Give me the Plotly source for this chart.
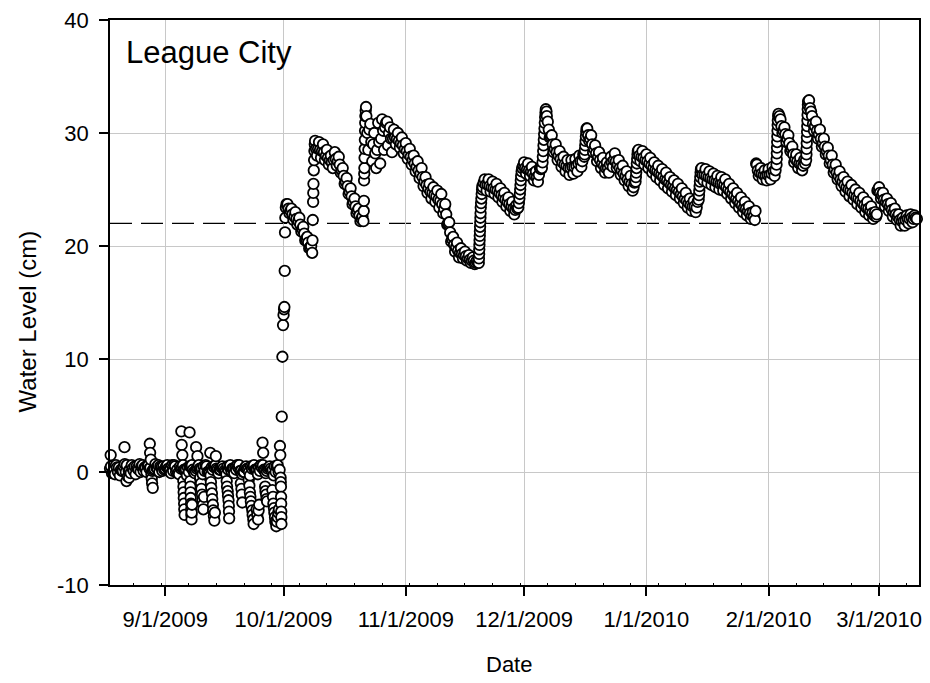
import pandas as pd
import plotly.graph_objects as go

# ---- Water-level readings (cm) at 00:00, one list per month ----
level_aug = [0.4, 0.3, 0.2, 0.0, 0.1, 0.0, 0.2, 0.1, 0.3, 0.5, 0.4, 0.3, 0.2, 0.3, 0.4]  # from Aug 17
level_sep = [0.3, 0.2, 0.1, 0.2, 0.3, 0.1, 0.0, 0.2, 0.3, 0.2,
             0.1, 0.0, 0.2, 0.3, 0.2, 0.1, 0.2, 0.3, 0.2, 0.1,
             0.0, 0.2, 0.3, 0.2, 0.1, 0.2, 0.3, 0.1, 0.0, 0.2]
level_oct = [13.9, 23.7, 23.3, 23.0, 22.5, 21.7, 20.8, 20.0, 29.3, 29.2,
             29.0, 28.5, 28.0, 28.3, 27.9, 26.9, 26.0, 25.1, 24.2, 23.3,
             22.6, 31.5, 30.8, 30.0, 30.9, 31.2, 30.9, 30.5, 30.3, 30.0, 29.6]
level_nov = [29.1, 28.6, 28.0, 27.5, 26.9, 26.1, 25.5, 25.2, 24.9, 24.6,
             23.7, 22.1, 20.8, 20.3, 19.8, 19.5, 19.2, 19.0, 18.7, 23.4,
             25.9, 25.9, 25.7, 25.5, 25.1, 24.7, 24.3, 23.9, 23.6, 25.0]
level_dec = [27.4, 27.3, 27.0, 26.6, 26.9, 29.4, 31.0, 29.8, 29.0, 28.4,
             27.9, 27.6, 27.6, 27.7, 28.0, 28.1, 30.4, 29.8, 28.9, 28.3,
             27.8, 27.4, 27.9, 28.2, 27.6, 27.1, 26.6, 26.2, 25.6, 28.5, 28.4]
level_jan = [28.1, 27.8, 27.4, 27.1, 26.8, 26.5, 26.1, 25.8, 25.5, 25.1,
             24.7, 24.2, 24.0, 23.9, 26.9, 26.8, 26.6, 26.4, 26.2, 26.1,
             25.9, 25.5, 25.1, 24.7, 24.3, 23.9, 23.5, 23.0, 27.2, 26.9, 26.7]
level_feb = [26.8, 27.0, 27.2, 31.2, 30.5, 29.8, 28.8, 28.1, 27.8, 27.6,
             32.8, 31.5, 31.0, 30.3, 29.5, 28.7, 28.0, 27.2, 26.6, 26.1,
             25.7, 25.4, 25.0, 24.7, 24.3, 23.9, 23.5, 23.0]
level_mar = [25.2, 24.7, 24.2, 23.8, 23.3, 22.8, 22.5, 22.7, 22.8, 22.7]

# ---- Readings at 06:00 (None where that reading is listed with the sub-daily readings) ----
morning_aug = [0.2, 0.5, -0.2, 0.4, 0.1, 0.6, -0.1, 0.5, 0.2, 0.6, 0.0, 0.4, 0.3, 0.6, 0.1]
morning_sep = [0.5, 0.2, 0.6, -0.1, 0.4, 0.2, 0.5, 0.0, 0.4, 0.3,
               0.6, -0.1, 0.5, 0.2, 0.4, 0.0, 0.5, 0.3, 0.6, 0.1,
               0.4, 0.0, 0.5, 0.2, 0.6, 0.1, 0.4, 0.2, 0.5, None]
morning_oct = [None, 23.3, 22.8, 22.4, 21.9, 21.1, 20.3, None, 28.6, 28.5,
               28.3, 27.8, 27.4, 27.7, 27.2, 26.2, 25.3, 24.4, 23.5, 22.7,
               None, None, None, None, None, None, None, None, 29.6, 29.3, 28.9]
morning_nov = [28.4, 27.9, 27.3, 26.7, 26.1, 25.4, 24.8, 24.5, 24.1, 23.7,
               22.8, 21.2, 20.1, 19.6, 19.3, 19.1, 18.8, 18.7, 18.5, None,
               25.4, 25.3, 25.1, 24.9, 24.5, 24.1, 23.7, 23.3, 23.3, None]
morning_dec = [26.9, 26.7, 26.4, 26.1, 26.8, None, 30.3, 29.0, 28.3, 27.7,
               27.2, 26.9, 27.0, 27.1, 27.5, 27.9, 29.8, 29.0, 28.2, 27.6,
               27.1, 26.9, 27.4, 27.5, 26.9, 26.4, 25.9, 25.5, None, 28.0, 27.8]
morning_jan = [27.5, 27.1, 26.7, 26.4, 26.1, 25.8, 25.4, 25.1, 24.8, 24.4,
               24.0, 23.6, 23.5, None, 26.3, 26.2, 26.0, 25.8, 25.6, 25.5,
               25.2, 24.8, 24.4, 24.0, 23.6, 23.3, 22.9, 22.6, 26.7, 26.4, 26.2]
morning_feb = [26.3, 26.6, None, 30.6, 29.9, 29.1, 28.1, 27.5, 27.2, 27.3,
               None, 30.8, 30.2, 29.5, 28.8, 28.0, 27.2, 26.5, 25.9, 25.4,
               25.0, 24.7, 24.3, 24.0, 23.6, 23.3, 22.9, 22.6]
morning_mar = [24.7, 24.1, 23.7, 23.2, 22.8, 22.3, 22.2, 22.4, 22.5, 22.5]

# ---- Readings at 12:00 ----
noon_aug = [0.7, -0.1, 0.6, -0.3, 0.5, -0.4, 0.6, -0.2, 0.7, 0.1, 0.6, -0.2, 0.7, 0.0, 0.5]
noon_sep = [0.6, -0.1, 0.5, -0.2, 0.6, -0.3, 0.5, -0.1, 0.6, -0.2,
            0.5, -0.3, 0.4, -0.1, 0.5, -0.2, 0.6, -0.1, 0.4, -0.2,
            0.5, -0.3, 0.6, -0.2, 0.4, -0.1, 0.5, -0.3, 0.6, None]
noon_oct = [None, 22.9, 22.3, 21.9, 21.3, 20.5, 19.8, None, 28.0, 27.8,
            27.6, 27.2, 26.9, 27.1, 26.5, 25.5, 24.6, 23.7, 22.9, 22.2,
            None, 28.5, 27.5, 26.9, 27.3, 28.5, 28.9, 28.3, 29.0, 28.7, 28.2]
noon_nov = [27.7, 27.2, 26.6, 26.0, 25.3, 24.7, 24.2, 23.9, 23.4, 22.9,
            21.9, 20.4, 19.5, 19.0, 18.9, 18.7, 18.5, 18.4, None, 25.2,
            24.9, 24.8, 24.6, 24.3, 23.9, 23.5, 23.1, 22.8, None, None]
noon_dec = [26.4, 26.2, 25.8, 25.7, None, None, 29.6, 28.3, 27.6, 27.0,
            26.6, 26.3, 26.4, 26.6, 27.0, None, 29.3, 28.3, 27.5, 26.9,
            26.5, 26.5, 27.0, 26.9, 26.3, 25.8, 25.3, 24.9, None, 27.5, 27.2]
noon_jan = [26.9, 26.5, 26.1, 25.8, 25.4, 25.1, 24.8, 24.5, 24.2, 23.8,
            23.4, 23.1, 23.0, None, 25.8, 25.6, 25.4, 25.2, 25.0, 24.9,
            24.6, 24.2, 23.8, 23.4, 23.0, 22.7, 22.4, 22.3, 26.2, 25.9, 25.8]
noon_feb = [25.9, 26.2, None, 30.0, 29.2, 28.4, 27.4, 26.9, 26.7, None,
            None, 30.2, 29.5, 28.8, 28.1, 27.3, 26.5, 25.9, 25.3, 24.8,
            24.4, 24.1, 23.7, 23.4, 23.0, 22.7, 22.4, None]
noon_mar = [24.2, 23.5, 23.1, 22.6, 22.3, 21.8, 21.8, 22.0, 22.1, None]

# ---- Readings at 18:00 ----
evening_aug = [0.5, 0.0, 0.4, 0.2, 0.7, 0.1, 0.3, 0.5, 0.0, 0.4, 0.6, 0.1, 0.4, 0.5, 0.2]
evening_sep = [0.3, 0.6, 0.0, 0.5, 0.2, 0.4, 0.6, 0.1, 0.3, 0.5,
               0.0, 0.4, 0.6, 0.2, 0.3, 0.5, 0.1, 0.4, 0.6, 0.0,
               0.3, 0.5, 0.2, 0.4, 0.6, 0.1, 0.3, 0.5, 0.0, None]
evening_oct = [None, 23.1, 22.6, 22.2, 21.5, 20.6, 19.9, None, 28.6, 28.4,
               28.0, 27.6, 27.6, 27.5, 26.7, 25.7, 24.8, 23.9, 23.1, 22.4,
               None, None, None, None, None, None, None, None, 29.5, 29.1, 28.6]
evening_nov = [28.1, 27.6, 27.0, 26.4, 25.7, 25.1, 24.7, 24.4, 24.0, 23.3,
               22.0, 20.6, 19.9, 19.4, 19.2, 18.9, 18.7, 18.5, None, 25.6,
               25.4, 25.2, 25.0, 24.7, 24.3, 23.9, 23.5, 23.2, None, 27.1]
evening_dec = [26.8, 26.6, 26.2, 26.3, None, 31.5, 29.7, 28.6, 28.0, 27.4,
               27.1, 26.9, 27.0, 27.3, 27.5, None, 29.5, 28.6, 27.9, 27.3,
               26.9, 27.2, 27.6, 27.2, 26.7, 26.2, 25.7, 25.2, None, 27.9, 27.6]
evening_jan = [27.3, 26.9, 26.6, 26.3, 25.9, 25.6, 25.3, 25.0, 24.6, 24.2,
               23.8, 23.5, 23.4, None, 26.3, 26.1, 25.9, 25.7, 25.5, 25.4,
               25.0, 24.6, 24.2, 23.8, 23.4, 23.1, 22.7, None, 26.5, 26.3, 26.3]
evening_feb = [26.4, 26.7, 31.5, 30.2, 29.5, 28.6, 27.7, 27.3, 27.1, None,
               31.9, 30.6, 29.9, 29.1, 28.4, 27.6, 26.8, 26.2, 25.7, 25.2,
               24.9, 24.5, 24.2, 23.8, 23.4, 23.1, 22.7, 25.0]
evening_mar = [24.5, 23.9, 23.5, 23.0, 22.6, 22.2, 22.3, 22.4, 22.4, None]

month_starts = ["2009-08-17", "2009-09-01", "2009-10-01", "2009-11-01",
                "2009-12-01", "2010-01-01", "2010-02-01", "2010-03-01"]
readings_by_hour = {
    0: [level_aug, level_sep, level_oct, level_nov, level_dec, level_jan, level_feb, level_mar],
    6: [morning_aug, morning_sep, morning_oct, morning_nov,
        morning_dec, morning_jan, morning_feb, morning_mar],
    12: [noon_aug, noon_sep, noon_oct, noon_nov, noon_dec, noon_jan, noon_feb, noon_mar],
    18: [evening_aug, evening_sep, evening_oct, evening_nov,
         evening_dec, evening_jan, evening_feb, evening_mar],
}

# ---- Sub-daily readings: pre-deployment spikes ----
spike_readings = [
    ("2009-08-18 04:00", 1.5), ("2009-08-21 16:00", 2.2), ("2009-08-22 04:00", -0.8),
    ("2009-08-22 20:00", -0.5),
    ("2009-08-28 02:00", 2.5), ("2009-08-28 04:00", 1.7), ("2009-08-28 08:00", 1.1),
    ("2009-08-28 14:00", -0.6), ("2009-08-28 16:00", -1.0), ("2009-08-28 20:00", -1.4),
    ("2009-09-05 02:00", 3.6), ("2009-09-05 04:00", 2.4), ("2009-09-05 08:00", 1.5),
    ("2009-09-05 14:00", -0.8), ("2009-09-05 15:00", -1.3), ("2009-09-05 16:00", -1.8),
    ("2009-09-05 17:00", -2.3), ("2009-09-05 19:00", -2.8), ("2009-09-05 20:00", -3.3),
    ("2009-09-05 22:00", -3.8),
    ("2009-09-07 04:00", 3.5), ("2009-09-07 08:00", -0.8), ("2009-09-07 09:00", -1.3),
    ("2009-09-07 10:00", -1.8), ("2009-09-07 11:00", -2.3), ("2009-09-07 13:00", -2.8),
    ("2009-09-07 14:00", -3.3), ("2009-09-07 15:00", -3.8), ("2009-09-07 16:00", -4.2),
    ("2009-09-07 17:00", -3.6), ("2009-09-07 19:00", -2.9),
    ("2009-09-08 20:00", 2.2), ("2009-09-09 04:00", 1.4),
    ("2009-09-09 21:00", -0.5), ("2009-09-10 02:00", -1.0), ("2009-09-10 04:00", -1.5),
    ("2009-09-10 08:00", -2.0), ("2009-09-10 10:00", -2.5), ("2009-09-10 14:00", -2.9),
    ("2009-09-10 16:00", -3.3), ("2009-09-10 20:00", -2.2),
    ("2009-09-12 10:00", 1.7), ("2009-09-12 14:00", -0.9), ("2009-09-12 16:00", -1.4),
    ("2009-09-12 20:00", -1.9), ("2009-09-12 22:00", -2.4), ("2009-09-13 02:00", -2.9),
    ("2009-09-13 04:00", -3.4), ("2009-09-13 08:00", -3.9), ("2009-09-13 11:00", -4.3),
    ("2009-09-13 14:00", -3.6), ("2009-09-13 20:00", 1.4),
    ("2009-09-16 14:00", -0.8), ("2009-09-16 16:00", -1.3), ("2009-09-16 20:00", -1.7),
    ("2009-09-16 22:00", -2.1), ("2009-09-17 01:00", -2.5), ("2009-09-17 03:00", -3.0),
    ("2009-09-17 04:00", -3.5), ("2009-09-17 05:00", -4.1),
    ("2009-09-20 04:00", -1.0), ("2009-09-20 08:00", -1.5), ("2009-09-20 10:00", -2.0),
    ("2009-09-20 13:00", -2.7),
    ("2009-09-22 04:00", -0.7), ("2009-09-22 08:00", -1.2), ("2009-09-22 11:00", -1.8),
    ("2009-09-22 14:00", -2.2), ("2009-09-22 17:00", -2.6), ("2009-09-22 20:00", -3.0),
    ("2009-09-23 02:00", -3.4), ("2009-09-23 04:00", -3.8), ("2009-09-23 08:00", -4.2),
    ("2009-09-23 10:00", -4.6), ("2009-09-24 04:00", -3.3), ("2009-09-24 08:00", -3.8),
    ("2009-09-24 13:00", -4.2), ("2009-09-24 16:00", -3.4), ("2009-09-24 20:00", -2.9),
    ("2009-09-25 16:00", 2.6), ("2009-09-25 20:00", 1.7),
    ("2009-09-26 08:00", -1.3), ("2009-09-26 10:00", -1.7), ("2009-09-26 14:00", -2.0),
    ("2009-09-26 16:00", -2.4), ("2009-09-26 20:00", -2.6),
    ("2009-09-28 04:00", -1.6), ("2009-09-28 08:00", -2.2), ("2009-09-28 10:00", -2.8),
    ("2009-09-28 14:00", -3.2), ("2009-09-28 16:00", -3.6), ("2009-09-28 20:00", -4.0),
    ("2009-09-28 22:00", -4.4), ("2009-09-29 04:00", -4.8), ("2009-09-29 08:00", -4.4),
    ("2009-09-29 13:00", -4.0), ("2009-09-29 16:00", -3.6), ("2009-09-29 20:00", -3.3),
    ("2009-09-30 02:00", 2.3), ("2009-09-30 04:00", 1.5), ("2009-09-30 06:00", -0.5),
    ("2009-09-30 07:00", -0.9), ("2009-09-30 08:00", -1.3), ("2009-09-30 09:00", -2.2),
    ("2009-09-30 09:30", -2.8), ("2009-09-30 10:00", -3.5), ("2009-09-30 10:30", -4.0),
    ("2009-09-30 11:00", -4.6),
]

# ---- Sub-daily readings: installation and rising-water events ----
surge_readings = [
    ("2009-09-30 13:00", 4.9), ("2009-09-30 17:00", 10.2), ("2009-09-30 21:00", 13.0),
    ("2009-10-01 03:00", 14.4), ("2009-10-01 05:00", 14.6), ("2009-10-01 07:00", 17.8),
    ("2009-10-01 09:00", 21.2), ("2009-10-01 11:00", 22.5), ("2009-10-01 14:00", 23.4),
    ("2009-10-01 18:00", 23.7),
    ("2009-10-08 06:00", 19.4), ("2009-10-08 08:00", 20.5), ("2009-10-08 10:00", 22.3),
    ("2009-10-08 12:00", 23.9), ("2009-10-08 13:00", 24.7), ("2009-10-08 14:00", 25.5),
    ("2009-10-08 16:00", 26.7), ("2009-10-08 18:00", 27.6), ("2009-10-08 20:00", 28.4),
    ("2009-10-08 22:00", 29.0),
    ("2009-10-21 06:00", 22.2), ("2009-10-21 08:00", 23.1), ("2009-10-21 09:00", 24.0),
    ("2009-10-21 10:00", 25.8), ("2009-10-21 11:00", 26.4), ("2009-10-21 12:00", 26.9),
    ("2009-10-21 13:00", 27.8), ("2009-10-21 14:00", 28.6), ("2009-10-21 15:00", 29.4),
    ("2009-10-21 16:00", 30.2), ("2009-10-21 17:00", 30.9), ("2009-10-21 18:00", 31.5),
    ("2009-10-21 20:00", 32.0), ("2009-10-21 22:00", 32.3),
    ("2009-10-22 06:00", 30.0), ("2009-10-22 18:00", 30.3), ("2009-10-23 06:00", 29.2),
    ("2009-10-23 18:00", 29.0), ("2009-10-24 06:00", 28.2), ("2009-10-24 18:00", 28.5),
    ("2009-10-25 06:00", 29.2), ("2009-10-25 18:00", 29.5), ("2009-10-26 06:00", 30.2),
    ("2009-10-26 18:00", 30.5), ("2009-10-27 06:00", 31.0), ("2009-10-27 18:00", 30.0),
    ("2009-10-28 06:00", 29.5), ("2009-10-28 18:00", 29.5),
    ("2009-11-19 12:00", 18.5), ("2009-11-19 13:00", 18.9), ("2009-11-19 14:00", 19.3),
    ("2009-11-19 15:00", 19.7), ("2009-11-19 16:00", 20.1), ("2009-11-19 17:00", 20.5),
    ("2009-11-19 18:00", 20.9), ("2009-11-19 19:00", 21.3), ("2009-11-19 20:00", 21.7),
    ("2009-11-19 21:00", 22.1), ("2009-11-19 22:00", 22.5), ("2009-11-19 23:00", 22.9),
    ("2009-11-20 02:00", 23.8), ("2009-11-20 04:00", 24.2), ("2009-11-20 06:00", 24.6),
    ("2009-11-20 08:00", 25.0), ("2009-11-20 10:00", 25.3),
    ("2009-11-29 12:00", 23.4), ("2009-11-29 16:00", 23.8), ("2009-11-29 19:00", 24.2),
    ("2009-11-29 22:00", 24.6), ("2009-11-30 02:00", 25.4), ("2009-11-30 04:00", 25.8),
    ("2009-11-30 06:00", 26.2), ("2009-11-30 09:00", 26.6), ("2009-11-30 12:00", 26.9),
    ("2009-12-05 12:00", 26.9), ("2009-12-05 16:00", 27.4), ("2009-12-05 18:00", 27.9),
    ("2009-12-05 20:00", 28.4), ("2009-12-05 22:00", 28.9), ("2009-12-06 02:00", 29.9),
    ("2009-12-06 04:00", 30.4), ("2009-12-06 06:00", 30.9), ("2009-12-06 08:00", 31.4),
    ("2009-12-06 10:00", 31.8), ("2009-12-06 12:00", 32.1), ("2009-12-06 16:00", 31.9),
    ("2009-12-16 08:00", 28.1), ("2009-12-16 10:00", 28.5), ("2009-12-16 12:00", 28.9),
    ("2009-12-16 14:00", 29.3), ("2009-12-16 16:00", 29.7), ("2009-12-16 18:00", 30.1),
    ("2009-12-16 20:00", 30.4),
    ("2009-12-29 06:00", 25.7), ("2009-12-29 08:00", 26.1), ("2009-12-29 10:00", 26.5),
    ("2009-12-29 12:00", 26.9), ("2009-12-29 14:00", 27.3), ("2009-12-29 16:00", 27.7),
    ("2009-12-29 18:00", 28.1), ("2009-12-29 20:00", 28.4),
    ("2010-01-14 06:00", 24.1), ("2010-01-14 08:00", 24.5), ("2010-01-14 10:00", 24.9),
    ("2010-01-14 12:00", 25.3), ("2010-01-14 14:00", 25.7), ("2010-01-14 16:00", 26.1),
    ("2010-01-14 18:00", 26.5), ("2010-01-14 20:00", 26.8),
    ("2010-01-28 16:00", 23.1), ("2010-01-28 20:00", 27.3),
    ("2010-02-03 01:00", 27.7), ("2010-02-03 02:00", 28.2), ("2010-02-03 03:00", 28.7),
    ("2010-02-03 04:00", 29.2), ("2010-02-03 05:00", 29.7), ("2010-02-03 06:00", 30.2),
    ("2010-02-03 07:00", 30.7), ("2010-02-03 08:00", 31.1), ("2010-02-03 10:00", 31.5),
    ("2010-02-03 12:00", 31.7),
    ("2010-02-10 12:00", 27.6), ("2010-02-10 14:00", 28.1), ("2010-02-10 15:00", 28.6),
    ("2010-02-10 16:00", 29.1), ("2010-02-10 17:00", 29.6), ("2010-02-10 18:00", 30.1),
    ("2010-02-10 19:00", 30.6), ("2010-02-10 20:00", 31.1), ("2010-02-10 21:00", 31.6),
    ("2010-02-10 22:00", 32.1), ("2010-02-10 23:00", 32.5), ("2010-02-11 06:00", 32.9),
    ("2010-02-11 12:00", 32.2),
    ("2010-02-28 10:00", 22.8), ("2010-02-28 14:00", 24.9),
    ("2010-03-10 14:00", 22.4),
]

# reference level (cm) drawn as a dashed line
threshold_level = 22

# axis ticks
x_tick_dates = ["2009-09-01", "2009-10-01", "2009-11-01", "2009-12-01",
                "2010-01-01", "2010-02-01", "2010-03-01"]
x_tick_labels = ["9/1/2009", "10/1/2009", "11/1/2009", "12/1/2009",
                 "1/1/2010", "2/1/2010", "3/1/2010"]
y_tick_values = [-10, 0, 10, 20, 30, 40]
y_tick_labels = ["-10", "0", "10", "20", "30", "40"]


def daily_frame(start, values, hour):
    times = pd.date_range(start, periods=len(values), freq="D") + pd.Timedelta(hours=hour)
    return pd.DataFrame({"time": times, "level": values})


# ---- assemble one time-ordered series ----
parts = []
for hour, monthly in readings_by_hour.items():
    for start, vals in zip(month_starts, monthly):
        parts.append(daily_frame(start, vals, hour))
for readings in (spike_readings, surge_readings):
    parts.append(pd.DataFrame({"time": pd.to_datetime([t for t, _ in readings]),
                               "level": [v for _, v in readings]}))
series = (pd.concat(parts, ignore_index=True)
          .dropna(subset=["level"])
          .sort_values("time", kind="stable"))

FONT = "Liberation Sans, Arial, Helvetica, sans-serif"

fig = go.Figure()
fig.add_trace(go.Scatter(
    x=series["time"], y=series["level"], mode="markers",
    marker=dict(symbol="circle", size=10.5, color="white",
                line=dict(color="black", width=1.8)),
    cliponaxis=False, hoverinfo="skip", showlegend=False,
))

fig.add_shape(type="line", xref="paper", x0=0, x1=1, yref="y",
              y0=threshold_level, y1=threshold_level, layer="below",
              line=dict(color="black", width=1.2, dash="22px,9px"))

fig.update_layout(
    width=930, height=683,
    margin=dict(l=110, r=8, t=18, b=98),
    plot_bgcolor="white", paper_bgcolor="white",
    font=dict(family=FONT, size=22, color="black"),
    showlegend=False,
    xaxis=dict(
        type="date", range=["2009-08-17 23:50", "2010-03-11 03:00"],
        tickmode="array", tickvals=x_tick_dates, ticktext=x_tick_labels,
        ticks="outside", ticklen=9, tickwidth=1.5, tickcolor="black",
        ticklabelstandoff=5,
        showline=True, linecolor="black", linewidth=1.5, mirror=True,
        showgrid=True, gridcolor="#c8c8c8", gridwidth=1, zeroline=False,
        tickfont=dict(family=FONT, size=22, color="black"),
        minor=dict(ticks="inside", ticklen=2, tickcolor="black", tickwidth=1,
                   tick0="2009-08-24", dtick=7 * 86400000, showgrid=False),
    ),
    yaxis=dict(
        range=[-10, 40], tickmode="array", tickvals=y_tick_values, ticktext=y_tick_labels,
        ticks="outside", ticklen=9, tickwidth=1.5, tickcolor="black",
        ticklabelstandoff=6,
        showline=True, linecolor="black", linewidth=1.5, mirror=True,
        showgrid=True, gridcolor="#c8c8c8", gridwidth=1, zeroline=False,
        tickfont=dict(family=FONT, size=22, color="black"),
    ),
    annotations=[
        dict(text="League City", xref="paper", yref="paper", x=0.0175, y=0.942,
             xanchor="left", yanchor="middle", showarrow=False,
             font=dict(family=FONT, size=31, color="black")),
        dict(text="Date", xref="paper", yref="paper", x=0.4926, y=-0.141,
             xanchor="center", yanchor="middle", showarrow=False,
             font=dict(family=FONT, size=22, color="black")),
        dict(text="Water Level (cm)", xref="paper", yref="paper", x=-0.1022, y=0.467,
             xanchor="center", yanchor="middle", textangle=-90, showarrow=False,
             font=dict(family=FONT, size=24, color="black")),
    ],
)

fig.write_html("out.html")
